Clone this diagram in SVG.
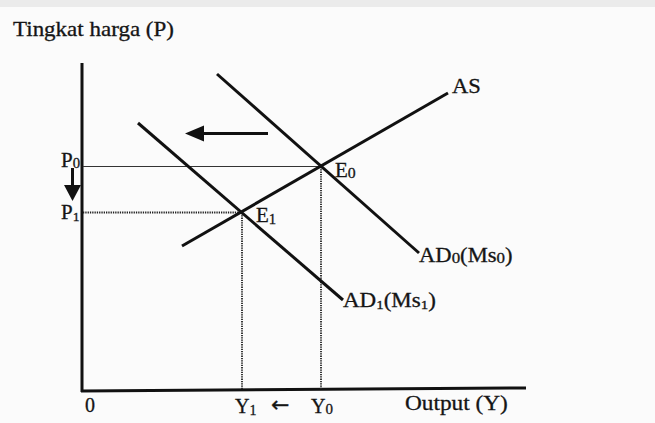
<svg xmlns="http://www.w3.org/2000/svg" width="655" height="423" viewBox="0 0 655 423">
  <defs>
    <style>
      .t { font-family: "Liberation Serif", "DejaVu Serif", serif; fill: #151515; stroke: #151515; stroke-width: 0.3; }
      .curve { stroke: #111; stroke-width: 3; fill: none; stroke-linecap: butt; }
      .axis { stroke: #111; stroke-width: 3; fill: none; }
      .thin { stroke: #333; stroke-width: 1; fill: none; }
      .dot { stroke: #222; stroke-width: 1.8; stroke-dasharray: 1.3 1; fill: none; }
      .ah { fill: #111; }
    </style>
  </defs>
  <rect x="0" y="0" width="655" height="423" fill="#fbfbfb"/>
  <rect x="0" y="0" width="655" height="7" fill="#ebebeb"/>

  <g id="title">
    <text class="t" font-size="20" transform="translate(13,36) scale(1.15,1)">Tingkat harga (P)</text>
  </g>

  <g id="axes">
    <line class="axis" x1="82" y1="63" x2="82" y2="392"/>
    <line class="axis" x1="81" y1="391" x2="526" y2="388"/>
  </g>

  <g id="guides">
    <line class="thin" x1="83" y1="166.5" x2="321" y2="166.5"/>
    <line class="dot" x1="83" y1="212.5" x2="242" y2="212.5"/>
    <line class="dot" x1="242" y1="213" x2="242" y2="390"/>
    <line class="dot" x1="321" y1="167" x2="321" y2="389"/>
  </g>

  <g id="connectors">
    <line id="AS" class="curve" x1="182" y1="246" x2="448" y2="93"/>
    <line id="AD0" class="curve" x1="217" y1="74" x2="419" y2="253"/>
    <line id="AD1" class="curve" x1="138" y1="123" x2="343" y2="300"/>
    <line class="curve" x1="268" y1="133.5" x2="200" y2="133.5" stroke-width="2.5"/>
    <polygon class="ah" points="185,133.5 204,125.5 204,141.5"/>
    <line class="curve" x1="72.5" y1="168" x2="72.5" y2="187" stroke-width="2"/>
    <polygon class="ah" points="64,185 81,185 72.5,201"/>
  </g>

  <g id="labels">
    <text class="t" font-size="20" transform="translate(61,167) scale(1.05,1)">P<tspan font-size="14" dy="1">0</tspan></text>
    <text class="t" font-size="20" transform="translate(61,219) scale(1.05,1)">P<tspan font-size="13" dy="2">1</tspan></text>
    <text class="t" font-size="20" transform="translate(335,177) scale(1.05,1)">E<tspan font-size="15" dy="1">0</tspan></text>
    <text class="t" font-size="20" transform="translate(256,222) scale(1.05,1)">E<tspan font-size="14" dy="2">1</tspan></text>
    <text class="t" font-size="20" transform="translate(452,93) scale(1.13,1)">AS</text>
    <text class="t" font-size="20" transform="translate(419,262) scale(1.13,1)">AD<tspan font-size="15" dy="1">0</tspan><tspan dy="-1">(Ms</tspan><tspan font-size="15" dy="1">0</tspan><tspan dy="-1">)</tspan></text>
    <text class="t" font-size="20" transform="translate(343,307) scale(1.15,1)">AD<tspan font-size="13" dy="2">1</tspan><tspan dy="-2">(Ms</tspan><tspan font-size="13" dy="2">1</tspan><tspan dy="-2">)</tspan></text>
    <text class="t" font-size="20" x="85" y="412">0</text>
    <text class="t" font-size="20" x="235" y="413">Y<tspan font-size="14" dy="2">1</tspan></text>
    <text class="t" style="font-family: 'DejaVu Sans', sans-serif; font-size: 22px;" x="271" y="412">←</text>
    <text class="t" font-size="20" x="311" y="413">Y<tspan font-size="15" dy="1">0</tspan></text>
    <text class="t" font-size="21" transform="translate(405,410) scale(1.11,1)">Output (Y)</text>
  </g>
</svg>
